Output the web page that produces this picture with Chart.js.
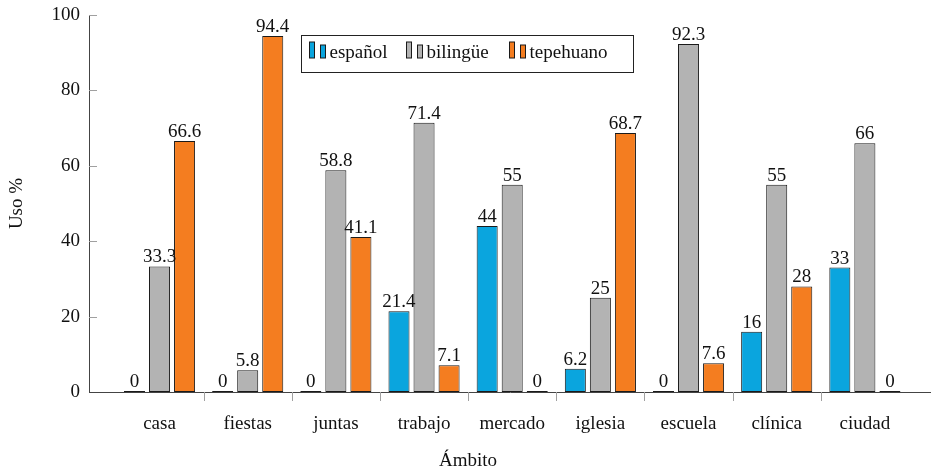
<!DOCTYPE html>
<html><head><meta charset="utf-8">
<script src="https://cdn.jsdelivr.net/npm/chart.js@4"></script>
<style>html,body{margin:0;padding:0;background:#fff}#wrap{width:931px;height:472px;position:relative}</style>
</head><body><div id="wrap"><canvas id="c"></canvas></div>
<script>
const categories = ['casa','fiestas','juntas','trabajo','mercado','iglesia','escuela','clínica','ciudad'];
const espanol   = [0, 0, 0, 21.4, 44, 6.2, 0, 16, 33];
const bilingue  = [33.3, 5.8, 58.8, 71.4, 55, 25, 92.3, 55, 66];
const tepehuano = [66.6, 94.4, 41.1, 7.1, 0, 68.7, 7.6, 28, 0];
const seriesNames = ['español', 'bilingüe', 'tepehuano'];
const yTicks = [0, 20, 40, 60, 80, 100];
const xTitle = 'Ámbito';
const yTitle = 'Uso %';

const FONT = '"Liberation Serif", "Times New Roman", serif';
const FS = 19;
const colors = ['#0AA5DE', '#B3B3B3', '#F47D20'];
const edge = '#1a1a1a';

function toPoints(arr){ return arr.map((v,i)=>({x:i, y:v})); }
const seriesData = [espanol, bilingue, tepehuano];

const datasets = seriesData.map((arr, k) => ({
  label: seriesNames[k],
  data: toPoints(arr),
  backgroundColor: colors[k],
  borderColor: edge,
  borderWidth: 1,
  borderSkipped: false,
  categoryPercentage: 0.852,
  barPercentage: 0.84,
  minBarLength: 1
}));

const extras = {
  id: 'extras',
  afterDatasetsDraw(chart){
    const ctx = chart.ctx;
    const xs = chart.scales.x, ys = chart.scales.y;
    const ca = chart.chartArea;
    ctx.save();
    // value labels
    ctx.font = FS + 'px ' + FONT;
    ctx.fillStyle = '#111';
    ctx.textAlign = 'center';
    ctx.textBaseline = 'alphabetic';
    chart.data.datasets.forEach((ds, di) => {
      const meta = chart.getDatasetMeta(di);
      meta.data.forEach((el, i) => {
        const v = ds.data[i].y;
        const top = Math.min(el.y, el.base);
        ctx.fillText(String(v), el.x, top - 4);
      });
    });
    // y tick marks (inside)
    ctx.strokeStyle = '#a0a0a0';
    ctx.lineWidth = 1;
    yTicks.forEach(t => {
      if (t === 0) return;
      const y = Math.round(ys.getPixelForValue(t)) + 0.5;
      ctx.beginPath(); ctx.moveTo(ca.left, y); ctx.lineTo(ca.left + 8, y); ctx.stroke();
    });
    // x tick marks between categories (outside)
    for (let i = 0; i < categories.length - 1; i++) {
      const x = Math.round(xs.getPixelForValue(i + 0.5)) + 0.5;
      ctx.beginPath(); ctx.moveTo(x, ca.bottom); ctx.lineTo(x, ca.bottom + 9); ctx.stroke();
    }
    // x title
    ctx.fillStyle = '#111';
    ctx.font = FS + 'px ' + FONT;
    ctx.textAlign = 'center';
    ctx.fillText(xTitle, 468, 466);

    // legend box
    const bx = 301.5, by = 35.5, bw = 332, bh = 37;
    const itemOffsets = [7, 104, 207];
    ctx.fillStyle = '#fff';
    ctx.fillRect(bx, by, bw, bh);
    ctx.strokeStyle = '#222';
    ctx.strokeRect(bx, by, bw, bh);
    seriesNames.forEach((n, k) => {
      const x1 = Math.round(bx + itemOffsets[k]) + 0.5;
      ctx.fillStyle = colors[k];
      ctx.strokeStyle = edge;
      ctx.fillRect(x1, 42, 5, 16); ctx.strokeRect(x1, 42, 5, 16);
      ctx.fillRect(x1 + 11, 45, 5, 13); ctx.strokeRect(x1 + 11, 45, 5, 13);
      ctx.fillStyle = '#111';
      ctx.textAlign = 'left';
      ctx.fillText(n, x1 + 20, 58);
    });
    ctx.restore();
  }
};

new Chart(document.getElementById('c'), {
  type: 'bar',
  data: { datasets },
  options: {
    responsive: true,
    maintainAspectRatio: false,
    animation: false,
    layout: { padding: { top: 15, right: 0, left: 0, bottom: 0 } },
    plugins: { legend: { display: false }, tooltip: { enabled: false } },
    scales: {
      x: {
        type: 'linear',
        min: -0.8,
        max: 8.75,
        offset: false,
        grid: { display: false, drawTicks: false },
        border: { display: true, color: '#444', width: 1 },
        afterBuildTicks: s => { s.ticks = categories.map((c, i) => ({ value: i })); },
        afterFit: s => { s.height = 80; s.paddingLeft = 0; s.paddingRight = 0; },
        ticks: {
          autoSkip: false, maxRotation: 0, padding: 21,
          color: '#111', font: { family: FONT, size: FS },
          callback: v => categories[v]
        }
      },
      y: {
        min: 0, max: 100,
        grid: { display: false, drawTicks: false },
        border: { display: true, color: '#444', width: 1 },
        afterBuildTicks: s => { s.ticks = yTicks.map(v => ({ value: v })); },
        afterFit: s => { s.width = 89; s.paddingTop = 0; s.paddingBottom = 0; },
        ticks: { padding: 9, color: '#111', font: { family: FONT, size: FS } },
        title: { display: true, text: yTitle, color: '#111', font: { family: FONT, size: FS }, padding: { top: 6, bottom: 0 } }
      }
    }
  },
  plugins: [extras]
});
</script>
</body></html>
